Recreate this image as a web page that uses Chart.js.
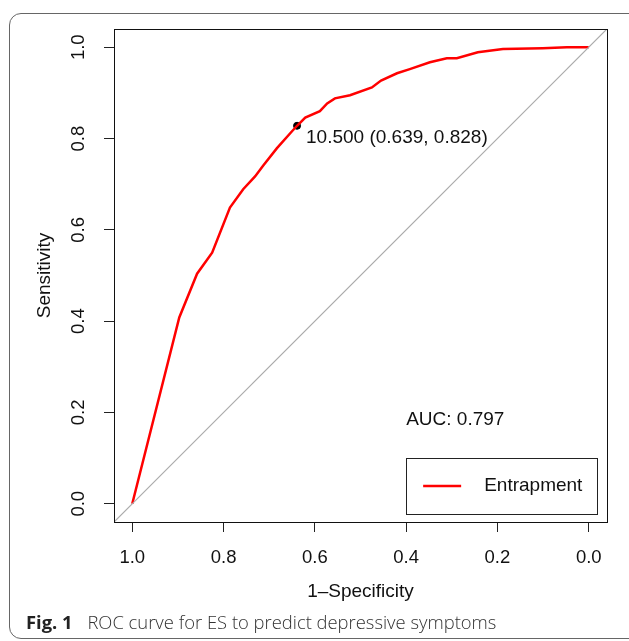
<!DOCTYPE html>
<html>
<head>
<meta charset="utf-8">
<script src="https://cdn.jsdelivr.net/npm/chart.js@4.4.1/dist/chart.umd.min.js"></script>
<style>
  html, body { margin: 0; padding: 0; background: #fff; }
  #wrap { position: relative; width: 629px; height: 641px; overflow: hidden; }
  #frame {
    position: absolute; left: 9px; top: 13px; width: 640px; height: 626px;
    border: 1px solid #666; border-radius: 12px; box-sizing: border-box;
  }
  #chart { position: absolute; left: 0; top: 0; }
  #caption {
    position: absolute; left: 26px; top: 609px;
    font-family: "Open Sans", "Noto Sans", sans-serif; font-size: 18.4px;
    color: #333; white-space: nowrap; font-weight: 300;
  }
  #caption b { font-weight: 700; color: #222; margin-right: 10px; }
</style>
</head>
<body>
<div id="wrap">
  <div id="frame"></div>
  <canvas id="chart" width="629" height="641"></canvas>
  <div id="caption"><b>Fig. 1</b> ROC curve for ES to predict depressive symptoms</div>
</div>
<script>
// ROC curve (x axis = specificity, drawn reversed)
const specificity = [1.0, 0.897, 0.858, 0.825, 0.786, 0.757, 0.731, 0.713, 0.683, 0.650, 0.639,
  0.621, 0.589, 0.573, 0.556, 0.523, 0.475, 0.455, 0.420, 0.392, 0.348, 0.311, 0.289,
  0.243, 0.188, 0.101, 0.048, 0.0];
const sensitivity = [0.0, 0.408, 0.504, 0.550, 0.649, 0.689, 0.717, 0.741, 0.779, 0.816, 0.828,
  0.846, 0.860, 0.877, 0.888, 0.895, 0.912, 0.927, 0.943, 0.952, 0.967, 0.976, 0.976,
  0.989, 0.996, 0.998, 1.0, 1.0];

// best threshold
const bestThreshold = 10.5;
const bestSpec = 0.639;
const bestSens = 0.828;
const aucValue = 0.797;

const seriesName = "Entrapment";
const xTicks = [0, 0.2, 0.4, 0.6, 0.8, 1.0];
const yTicks = [0, 0.2, 0.4, 0.6, 0.8, 1.0];

const FONT = '"Liberation Sans", Arial, Helvetica, sans-serif';

const rocData = specificity.map((s, i) => ({ x: s, y: sensitivity[i] }));

// draws box, rotated y labels, axis titles, texts and legend
const rPlot = {
  id: 'rPlot',
  afterDraw(chart) {
    const ctx = chart.ctx;
    const a = chart.chartArea;
    const xs = chart.scales.x, ys = chart.scales.y;
    ctx.save();
    ctx.strokeStyle = '#111';
    ctx.lineWidth = 1;
    ctx.strokeRect(Math.round(a.left) + 0.5, Math.round(a.top) + 0.5,
      Math.round(a.right - a.left), Math.round(a.bottom - a.top));

    ctx.fillStyle = '#111';
    ctx.font = '18.5px ' + FONT;
    ctx.textAlign = 'center';
    ctx.textBaseline = 'middle';
    // y tick labels rotated
    yTicks.forEach(v => {
      ctx.save();
      ctx.translate(79, ys.getPixelForValue(v));
      ctx.rotate(-Math.PI / 2);
      ctx.fillText(v.toFixed(1), 0, 0);
      ctx.restore();
    });
    ctx.font = '19px ' + FONT;
    // axis titles
    ctx.fillText('1\u2013Specificity', (a.left + a.right) / 2, 592);
    ctx.save();
    ctx.translate(45, (a.top + a.bottom) / 2);
    ctx.rotate(-Math.PI / 2);
    ctx.fillText('Sensitivity', 0, 0);
    ctx.restore();

    // threshold label
    const px = xs.getPixelForValue(bestSpec), py = ys.getPixelForValue(bestSens);
    ctx.textAlign = 'left';
    ctx.fillText(bestThreshold.toFixed(3) + ' (' + bestSpec.toFixed(3) + ', ' + bestSens.toFixed(3) + ')',
      px + 9, py + 12);

    // AUC
    ctx.fillText('AUC: ' + aucValue.toFixed(3), xs.getPixelForValue(0.4), ys.getPixelForValue(0.184));

    // legend
    const lx = xs.getPixelForValue(0.4), lr = a.right - 10, lt = 458, lb = 514;
    ctx.strokeStyle = '#222';
    ctx.strokeRect(Math.round(lx) + 0.5, lt + 0.5, Math.round(lr - lx), lb - lt);
    ctx.strokeStyle = '#ff0000';
    ctx.lineWidth = 2.5;
    ctx.beginPath();
    ctx.moveTo(lx + 17, 486);
    ctx.lineTo(lx + 55, 486);
    ctx.stroke();
    ctx.fillText(seriesName, lx + 78, 486);
    ctx.restore();
  }
};

new Chart(document.getElementById('chart'), {
  type: 'scatter',
  data: {
    datasets: [
      {
        label: 'diagonal',
        data: [{ x: 1.04, y: -0.04 }, { x: -0.04, y: 1.04 }],
        showLine: true,
        borderColor: '#aaaaaa',
        borderWidth: 1.2,
        pointRadius: 0
      },
      {
        label: seriesName,
        data: rocData,
        showLine: true,
        borderColor: '#ff0000',
        borderWidth: 2.5,
        pointRadius: 0,
        tension: 0
      },
      {
        label: 'best',
        data: [{ x: bestSpec, y: bestSens }],
        pointRadius: 3.5,
        backgroundColor: '#000',
        borderColor: '#000'
      }
    ]
  },
  options: {
    responsive: false,
    animation: false,
    layout: { padding: { left: 0, top: 29, right: 22, bottom: 0 } },
    plugins: { legend: { display: false }, tooltip: { enabled: false } },
    scales: {
      x: {
        type: 'linear',
        reverse: true,
        min: -0.04,
        max: 1.04,
        afterBuildTicks: s => { s.ticks = xTicks.map(v => ({ value: v })); },
        afterFit: s => { s.height = 119; },
        border: { display: false },
        grid: { drawOnChartArea: false, drawTicks: true, tickLength: 10, color: '#222' },
        ticks: {
          padding: 15,
          color: '#111',
          font: { family: FONT, size: 18.5 },
          callback: v => v.toFixed(1),
          maxRotation: 0
        }
      },
      y: {
        type: 'linear',
        min: -0.04,
        max: 1.04,
        afterBuildTicks: s => { s.ticks = yTicks.map(v => ({ value: v })); },
        afterFit: s => { s.width = 114; },
        border: { display: false },
        grid: { drawOnChartArea: false, drawTicks: true, tickLength: 10, color: '#222' },
        ticks: { display: false }
      }
    }
  },
  plugins: [rPlot]
});
</script>
</body>
</html>
